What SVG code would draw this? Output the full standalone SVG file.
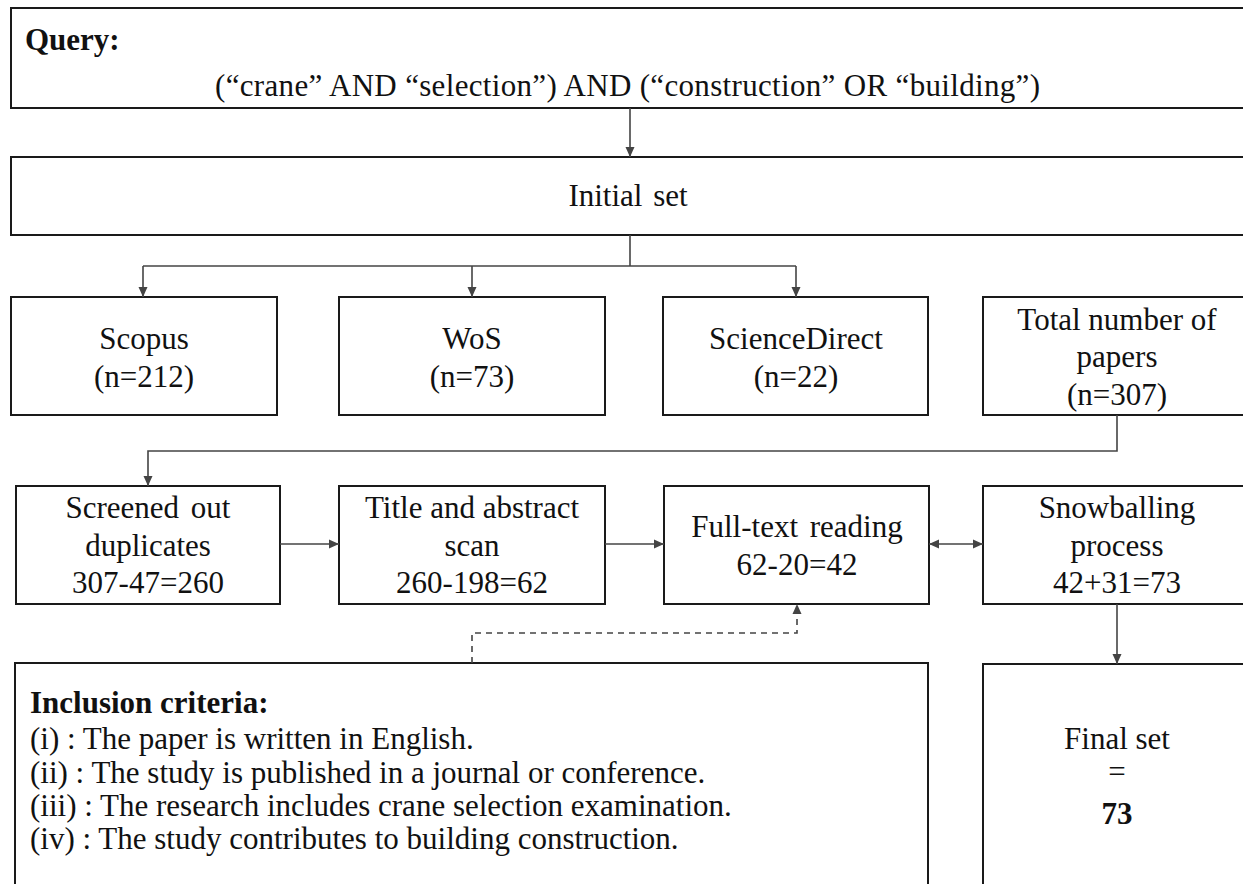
<svg xmlns="http://www.w3.org/2000/svg" width="1243" height="884" viewBox="0 0 1243 884">
<style>
.box{fill:#fff;stroke:#1a1a1a;stroke-width:2}
.t{font-family:"Liberation Serif","Times New Roman",serif;font-size:31px;fill:#111;text-anchor:middle}
.b{font-weight:bold}
.l{text-anchor:start}
.c{fill:none;stroke:#444;stroke-width:1.6}
.d{stroke-dasharray:6,5}
</style>
<defs>
<marker id="ah" viewBox="0 0 10 10" refX="10" refY="5" markerWidth="10" markerHeight="10" markerUnits="userSpaceOnUse" orient="auto-start-reverse">
<path d="M0,0.5 L10,5 L0,9.5 z" fill="#444"/>
</marker>
</defs>
<rect width="1243" height="884" fill="#fff"/>
<g id="query">
<rect class="box" x="11" y="8" width="1240" height="100"/>
<text class="t b l" x="25" y="50">Query:</text>
<text class="t l" x="215" y="96" textLength="825" lengthAdjust="spacing">(“crane” AND “selection”) AND (“construction” OR “building”)</text>
</g>
<g id="initial">
<rect class="box" x="11" y="157" width="1240" height="78"/>
<text class="t" x="628" y="206" word-spacing="3">Initial set</text>
</g>
<g id="scopus">
<rect class="box" x="11" y="297" width="266" height="118"/>
<text class="t" x="144" y="349">Scopus</text>
<text class="t" x="144" y="387">(n=212)</text>
</g>
<g id="wos">
<rect class="box" x="339" y="297" width="266" height="118"/>
<text class="t" x="472" y="349">WoS</text>
<text class="t" x="472" y="387">(n=73)</text>
</g>
<g id="sciencedirect">
<rect class="box" x="663" y="297" width="265" height="118"/>
<text class="t" x="796" y="349">ScienceDirect</text>
<text class="t" x="796" y="387">(n=22)</text>
</g>
<g id="total">
<rect class="box" x="983" y="297" width="268" height="118"/>
<text class="t" x="1117" y="330">Total number of</text>
<text class="t" x="1117" y="367">papers</text>
<text class="t" x="1117" y="405">(n=307)</text>
</g>
<g id="screened">
<rect class="box" x="16" y="486" width="264" height="118"/>
<text class="t" x="148" y="518" word-spacing="4">Screened out</text>
<text class="t" x="148" y="556">duplicates</text>
<text class="t" x="148" y="593">307-47=260</text>
</g>
<g id="title">
<rect class="box" x="339" y="486" width="266" height="118"/>
<text class="t" x="472" y="518">Title and abstract</text>
<text class="t" x="472" y="556">scan</text>
<text class="t" x="472" y="593">260-198=62</text>
</g>
<g id="fulltext">
<rect class="box" x="664" y="486" width="265" height="118"/>
<text class="t" x="797" y="537" word-spacing="4">Full-text reading</text>
<text class="t" x="797" y="575">62-20=42</text>
</g>
<g id="snowball">
<rect class="box" x="983" y="486" width="268" height="118"/>
<text class="t" x="1117" y="518">Snowballing</text>
<text class="t" x="1117" y="556">process</text>
<text class="t" x="1117" y="593">42+31=73</text>
</g>
<g id="inclusion">
<rect class="box" x="15" y="663" width="913" height="240"/>
<text class="t b l" x="30" y="713">Inclusion criteria:</text>
<text class="t l" x="30" y="749">(i) : The paper is written in English.</text>
<text class="t l" x="30" y="783">(ii) : The study is published in a journal or conference.</text>
<text class="t l" x="30" y="816">(iii) : The research includes crane selection examination.</text>
<text class="t l" x="30" y="849">(iv) : The study contributes to building construction.</text>
</g>
<g id="final">
<rect class="box" x="983" y="664" width="268" height="240"/>
<text class="t" x="1117" y="749">Final set</text>
<text class="t" x="1117" y="782">=</text>
<text class="t b" x="1117" y="824">73</text>
</g>
<g id="connectors">
<path class="c" d="M630,108 V157" marker-end="url(#ah)"/>
<path class="c" d="M630,235 V266"/>
<path class="c" d="M143,266 H796"/>
<path class="c" d="M143,266 V297" marker-end="url(#ah)"/>
<path class="c" d="M472,266 V297" marker-end="url(#ah)"/>
<path class="c" d="M796,266 V297" marker-end="url(#ah)"/>
<path class="c" d="M1117,415 V451 H148 V486" marker-end="url(#ah)"/>
<path class="c" d="M280,544 H339" marker-end="url(#ah)"/>
<path class="c" d="M605,544 H664" marker-end="url(#ah)"/>
<path class="c" d="M929,544 H983" marker-start="url(#ah)" marker-end="url(#ah)"/>
<path class="c" d="M1117,604 V664" marker-end="url(#ah)"/>
<path class="c d" d="M472,663 V633 H797 V604" marker-end="url(#ah)"/>
</g>
</svg>
